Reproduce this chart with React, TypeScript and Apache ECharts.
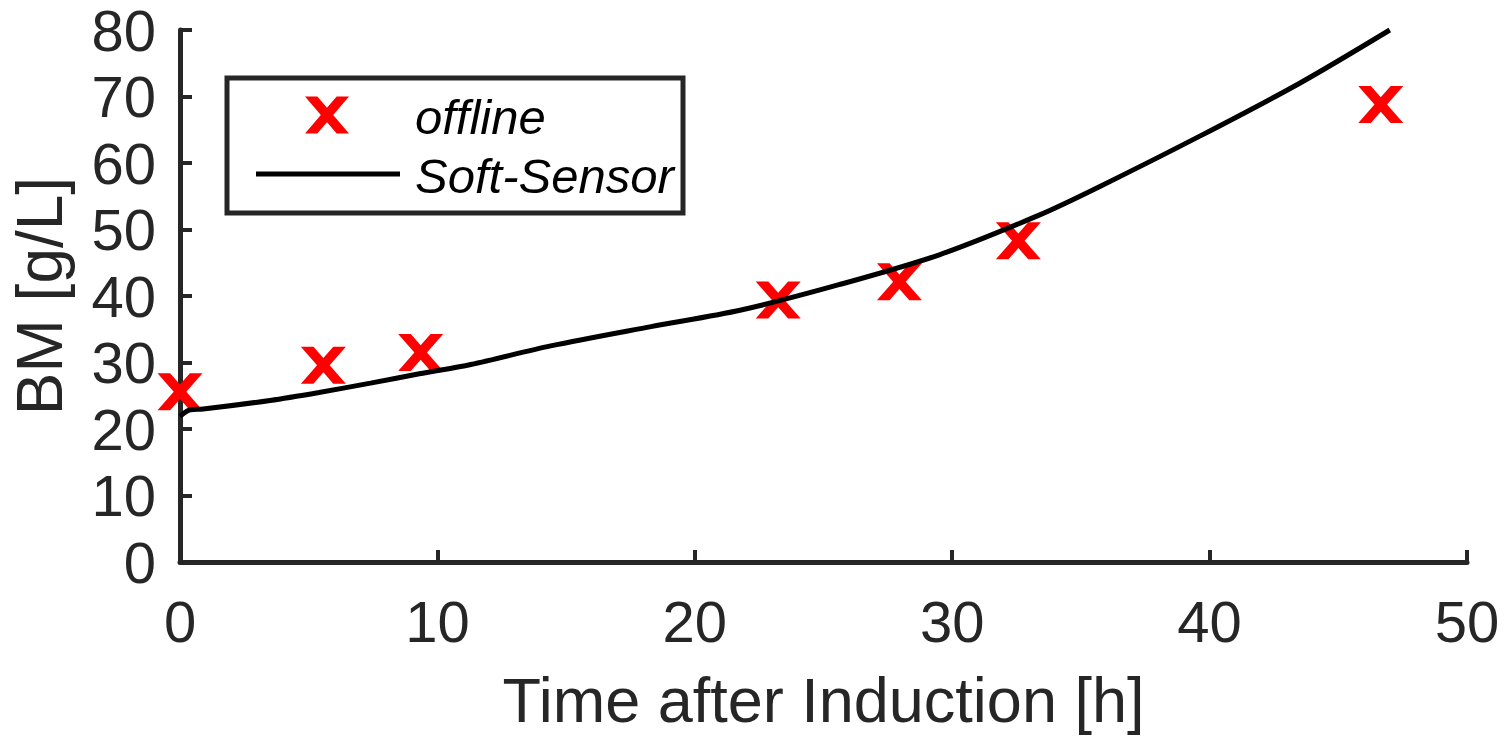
import React, { useEffect, useRef } from "react";
import * as echarts from "echarts";

const offlineTime = [0, 5.57, 9.35, 23.24, 27.95, 32.57, 46.65];
const offlineBM = [25.6, 29.6, 31.5, 39.4, 42.15, 48.3, 68.8];

const softTime = [0, 0.4, 0.9, 3.5, 5.4, 7.4, 9.3, 11.3, 14.4, 18.3, 21.8, 25.6, 29.5, 33.4, 35.7, 39.6, 43.5, 47.0];
const softBM = [21.9, 22.9, 23.0, 24.3, 25.5, 26.9, 28.3, 29.7, 32.5, 35.4, 37.9, 41.7, 46.2, 52.2, 56.4, 64.0, 72.0, 80.0];

const xTicks = [0, 10, 20, 30, 40, 50];
const yTicks = [0, 10, 20, 30, 40, 50, 60, 70, 80];

const legendNames = ["offline", "Soft-Sensor"];

const FONT = "Arial, 'Liberation Sans', Helvetica, sans-serif";
const AXIS = "#262626";
const XPATH = "path://M0,0 L28,0 L50,30.56 L72,0 L100,0 L64,50 L100,100 L72,100 L50,69.44 L28,100 L0,100 L36,50 Z";

function xPolygon(cx: number, cy: number, w: number, h: number) {
  const pts = [
    [0, 0], [28, 0], [50, 30.56], [72, 0], [100, 0], [64, 50],
    [100, 100], [72, 100], [50, 69.44], [28, 100], [0, 100], [36, 50],
  ];
  return pts.map(([px, py]) => [cx - w / 2 + (px / 100) * w, cy - h / 2 + (py / 100) * h]);
}

export default function App() {
  const ref = useRef<HTMLDivElement>(null);
  useEffect(() => {
    if (!ref.current) return;
    const chart = echarts.init(ref.current, undefined, { renderer: "svg" });
    const option: any = {
      animation: false,
      backgroundColor: "#ffffff",
      grid: { left: 180, right: 40, top: 30, bottom: 174, containLabel: false },
      xAxis: {
        type: "value",
        min: xTicks[0],
        max: xTicks[xTicks.length - 1],
        interval: 10,
        name: "Time after Induction [h]",
        nameLocation: "middle",
        nameGap: 106,
        nameTextStyle: { fontSize: 63, color: AXIS, fontFamily: FONT },
        axisLine: { onZero: false, lineStyle: { color: AXIS, width: 5 } },
        axisTick: { inside: true, length: 12, lineStyle: { color: AXIS, width: 4 } },
        axisLabel: { fontSize: 58, color: AXIS, fontFamily: FONT, margin: 30 },
        splitLine: { show: false },
      },
      yAxis: {
        type: "value",
        min: yTicks[0],
        max: yTicks[yTicks.length - 1],
        interval: 10,
        name: "BM [g/L]",
        nameLocation: "middle",
        nameGap: 108,
        nameTextStyle: { fontSize: 64, color: AXIS, fontFamily: FONT },
        axisLine: { onZero: false, lineStyle: { color: AXIS, width: 5 } },
        axisTick: { inside: true, length: 12, lineStyle: { color: AXIS, width: 4 } },
        axisLabel: { fontSize: 58, color: AXIS, fontFamily: FONT, margin: 24 },
        splitLine: { show: false },
      },
      series: [
        {
          name: legendNames[0],
          type: "scatter",
          symbol: XPATH,
          symbolSize: [45, 37],
          itemStyle: { color: "#ff0000", opacity: 1 },
          data: offlineTime.map((t, i) => [t, offlineBM[i]]),
          z: 2,
        },
        {
          name: legendNames[1],
          type: "line",
          showSymbol: false,
          smooth: 0.3,
          lineStyle: { color: "#000000", width: 5 },
          data: softTime.map((t, i) => [t, softBM[i]]),
          z: 3,
        },
      ],
      graphic: [
        {
          type: "rect",
          shape: { x: 227, y: 78, width: 456, height: 135 },
          style: { fill: "#ffffff", stroke: AXIS, lineWidth: 5 },
          z: 10,
        },
        {
          type: "polygon",
          shape: { points: xPolygon(327, 115, 44, 37) },
          style: { fill: "#ff0000" },
          z: 11,
        },
        {
          type: "line",
          shape: { x1: 256, y1: 174, x2: 400, y2: 174 },
          style: { stroke: "#000000", lineWidth: 5 },
          z: 11,
        },
        {
          type: "text",
          x: 415,
          y: 117,
          style: {
            text: legendNames[0],
            font: `italic 49px ${FONT}`,
            fill: "#000000",
            verticalAlign: "middle",
          },
          z: 11,
        },
        {
          type: "text",
          x: 415,
          y: 176,
          style: {
            text: legendNames[1],
            font: `italic 49px ${FONT}`,
            fill: "#000000",
            verticalAlign: "middle",
          },
          z: 11,
        },
      ],
    };
    chart.setOption(option);
    return () => chart.dispose();
  }, []);
  return (
    <div
      ref={ref}
      style={{ position: "fixed", left: 0, top: 0, width: 1507, height: 736 }}
    />
  );
}
